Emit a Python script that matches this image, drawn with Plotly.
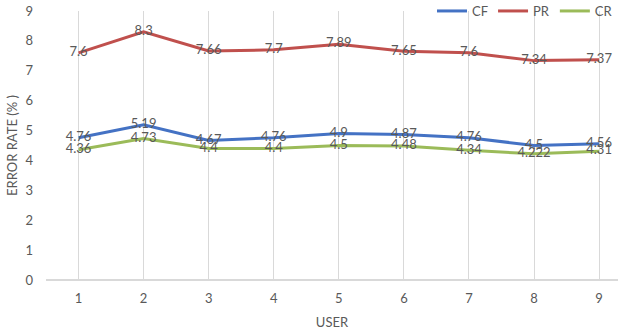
import plotly.graph_objects as go

users = [1, 2, 3, 4, 5, 6, 7, 8, 9]
cf = [4.76, 5.19, 4.67, 4.76, 4.9, 4.87, 4.76, 4.5, 4.56]
pr = [7.6, 8.3, 7.66, 7.7, 7.89, 7.65, 7.6, 7.34, 7.37]
cr = [4.36, 4.73, 4.4, 4.4, 4.5, 4.48, 4.34, 4.222, 4.31]

series = [("CF", cf, "#4472C4"), ("PR", pr, "#C0504D"), ("CR", cr, "#9BBB59")]

FONT = "Lato, Open Sans, sans-serif"
GRAY = "#595959"

fig = go.Figure()
for name, vals, color in series:
    fig.add_trace(go.Scatter(
        x=users, y=vals, name=name, mode="lines+text",
        line=dict(color=color, width=3),
        text=[str(v) for v in vals], textposition="middle center",
        textfont=dict(family=FONT, size=13, color=GRAY),
        cliponaxis=False,
    ))

fig.update_layout(
    width=618, height=334,
    margin=dict(l=46, r=0, t=11, b=54, autoexpand=False),
    paper_bgcolor="white", plot_bgcolor="white",
    font=dict(family=FONT, size=13, color=GRAY),
    showlegend=True,
    legend=dict(orientation="h", x=1.0, xanchor="right", y=1.0, yanchor="middle",
                font=dict(size=13, color=GRAY), itemwidth=30,
                bgcolor="rgba(0,0,0,0)", traceorder="normal"),
    xaxis=dict(range=[0.5, 9.29], tickvals=users, showgrid=True,
               gridcolor="#D9D9D9", gridwidth=1, zeroline=False,
               showline=False, ticks="", tickfont=dict(size=13, color=GRAY),
               ticklabelstandoff=9,
               title=dict(text="USER", font=dict(size=13, color=GRAY), standoff=12)),
    yaxis=dict(range=[0, 9], dtick=1, showgrid=False, zeroline=True,
               zerolinecolor="#D9D9D9", zerolinewidth=1.5, showline=False,
               ticks="", tickfont=dict(size=13, color=GRAY), ticklabelstandoff=12,
               title=dict(text="ERROR RATE (% )", font=dict(size=13, color=GRAY), standoff=4)),
)

fig.write_html("out.html")
